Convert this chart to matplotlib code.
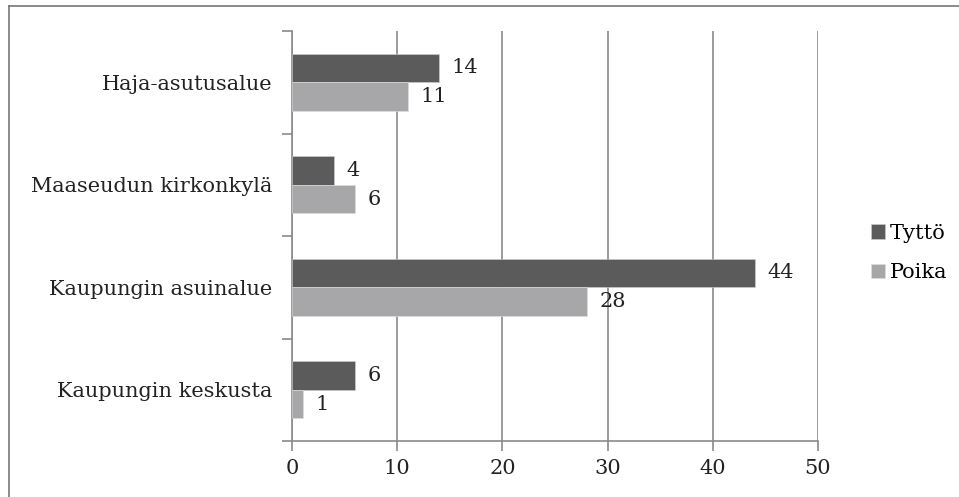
import numpy as np
import matplotlib.pyplot as plt
from matplotlib.lines import Line2D

# Data (bottom to top)
categories = ['Kaupungin keskusta', 'Kaupungin asuinalue', 'Maaseudun kirkonkylä', 'Haja-asutusalue']
tytto = [6, 44, 4, 14]
poika = [1, 28, 6, 11]
series_names = ['Tyttö', 'Poika']
xticks = [0, 10, 20, 30, 40, 50]

dark = '#5b5b5b'
light = '#a7a7a9'
grid_col = '#8a8a8a'
fs = 15

plt.rcParams['font.family'] = ['DejaVu Serif']

fig = plt.figure(figsize=(9.59, 4.97), dpi=100)
ax = fig.add_axes([292/959, 1 - 441/497, (818 - 292)/959, (441 - 31)/497])

y = np.arange(len(categories))
h = 0.28
b1 = ax.barh(y + h/2, tytto, height=h, color=dark, edgecolor='#d0d0d0', linewidth=0.4, label=series_names[0], zorder=3)
b2 = ax.barh(y - h/2, poika, height=h, color=light, edgecolor='#e0e0e0', linewidth=0.4, label=series_names[1], zorder=3)

for bars, vals in ((b1, tytto), (b2, poika)):
    for bar, v in zip(bars, vals):
        ax.text(bar.get_width() + 1.2, bar.get_y() + bar.get_height()/2, str(v),
                va='center', ha='left', fontsize=fs, color='#222222')

ax.set_xlim(0, 50)
ax.set_ylim(-0.5, len(categories) - 0.5)
ax.set_xticks(xticks)
ax.set_yticks(y)
ax.set_yticklabels(categories)
ax.set_yticks(np.arange(-0.5, len(categories), 1), minor=True)

ax.xaxis.grid(True, color=grid_col, linewidth=1.2, zorder=0)
ax.set_axisbelow(True)

for s in ['top', 'right']:
    ax.spines[s].set_visible(False)
for s in ['left', 'bottom']:
    ax.spines[s].set_color(grid_col)
    ax.spines[s].set_linewidth(1.2)

ax.tick_params(axis='y', which='major', length=0, pad=14, labelsize=fs, labelcolor='#222222')
ax.tick_params(axis='y', which='minor', length=7, width=1.2, color=grid_col)
ax.tick_params(axis='x', which='major', length=7, width=1.2, color=grid_col, pad=6,
               labelsize=fs, labelcolor='#222222')

handles = [b1, b2]
fig.legend(handles, series_names, loc='center left', bbox_to_anchor=(852/959, 244/497),
           frameon=False, fontsize=fs, handlelength=0.7, handleheight=0.7,
           handletextpad=0.2, labelspacing=1.0)

# outer frame (top and left only)
fig.add_artist(Line2D([9/959, 1], [1 - 6/497, 1 - 6/497], color='#777777', linewidth=1.2, transform=fig.transFigure))
fig.add_artist(Line2D([9/959, 9/959], [0, 1 - 6/497], color='#777777', linewidth=1.2, transform=fig.transFigure))

fig.savefig('out.png', dpi=100)
